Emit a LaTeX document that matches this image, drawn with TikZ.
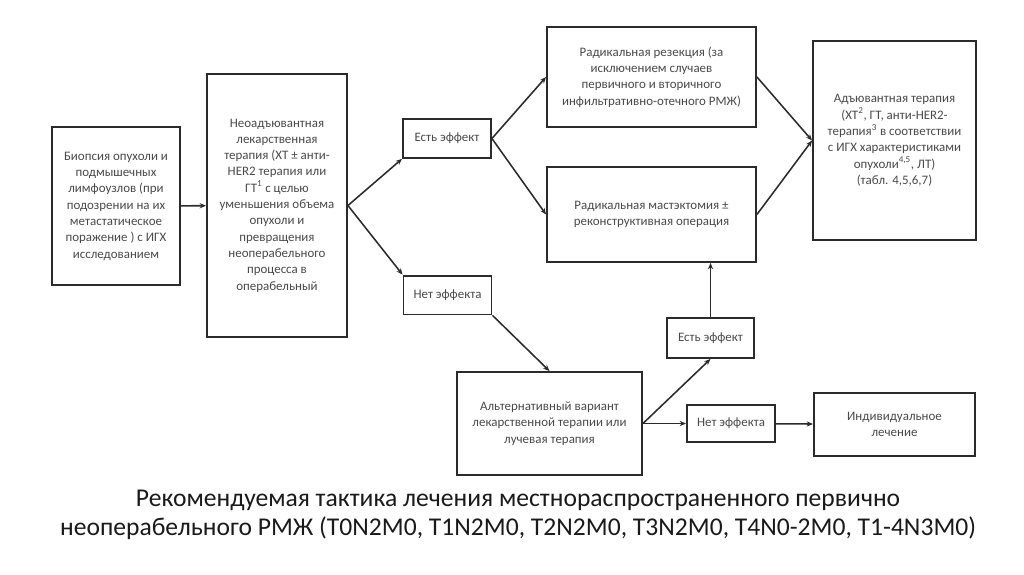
\documentclass[tikz,border=0pt]{standalone}
\usepackage{fontspec}
\setmainfont{Carlito}
\usetikzlibrary{arrows.meta, positioning, calc}
\definecolor{boxline}{HTML}{2B2B2B}
\definecolor{boxtext}{HTML}{4A4A4A}
\definecolor{captxt}{HTML}{1A1A1A}

\begin{document}
\begin{tikzpicture}[
  x=0.025cm, y=-0.025cm,
  stage/.style={draw=boxline, line width=1.3pt, fill=white, align=center,
    text=boxtext, font=\fontsize{9.2}{11.6}\selectfont, inner sep=2pt},
  result/.style={stage, minimum width=2.2cm, minimum height=0.97cm},
  >={Stealth[length=1.6mm, width=1.3mm]},
  flow/.style={draw=boxline, line width=1.1pt, ->},
]

% Page frame
\useasboundingbox (0,0) rectangle (1024,574);

% ============================================================
% Left column: biopsy and neoadjuvant therapy
% ============================================================
\node[stage, minimum width=3.2cm, minimum height=3.95cm] (biopsy) at (116,206)
  {Биопсия опухоли и\\подмышечных\\лимфоузлов (при\\подозрении на их\\метастатическое\\поражение ) с ИГХ\\исследованием};

\node[stage, minimum width=3.5cm, minimum height=6.575cm] (neoadj) at (277,205.5)
  {Неоадъювантная\\лекарственная\\терапия (ХТ ± анти-\\HER2 терапия или\\ГТ\textsuperscript{1} с целью\\уменьшения объема\\опухоли и\\превращения\\неоперабельного\\процесса в\\операбельный};

% Effect / no effect after neoadjuvant
\node[result] (eff1) at (447,138.5) {Есть эффект};
\node[result] (noeff1) at (447.5,295) {Нет эффекта};

% ============================================================
% Surgery and adjuvant therapy
% ============================================================
\node[stage, minimum width=5.225cm, minimum height=2.5cm] (resect) at (651.5,77)
  {Радикальная резекция (за\\исключением случаев\\первичного и вторичного\\инфильтративно-отечного РМЖ)};

\node[stage, minimum width=5.225cm, minimum height=2.375cm] (mast) at (651.5,214.5)
  {Радикальная мастэктомия ±\\реконструктивная операция};

\node[stage, minimum width=4.075cm, minimum height=4.975cm] (adj) at (894.5,140.5)
  {Адъювантная терапия\\(ХТ\textsuperscript{2}, ГТ, анти-HER2-\\терапия\textsuperscript{3} в соответствии\\с ИГХ характеристиками\\опухоли\textsuperscript{4,5}, ЛТ)\\(табл. 4,5,6,7)};

% ============================================================
% Alternative branch
% ============================================================
\node[stage, minimum width=4.625cm, minimum height=2.575cm] (alt) at (549.5,423.5)
  {Альтернативный вариант\\лекарственной терапии или\\лучевая терапия};

\node[result, minimum width=2.175cm, minimum height=1cm] (eff2) at (710.5,338) {Есть эффект};
\node[result, minimum height=0.925cm] (noeff2) at (731,423.5) {Нет эффекта};

\node[stage, minimum width=4.025cm, minimum height=1.575cm] (indiv) at (894.5,424.5)
  {Индивидуальное\\лечение};

% ============================================================
% Connectors
% ============================================================
\draw[flow] (biopsy) -- (neoadj);
\draw[flow] (neoadj.east) -- (eff1.south west);
\draw[flow] (neoadj.east) -- (noeff1.north west);

\draw[flow] (eff1.east) -- (resect.west);
\draw[flow] (eff1.east) -- (mast.west);
\draw[flow] (resect.east) -- (adj.west);
\draw[flow] (mast.east) -- (adj.west);

\draw[flow] (noeff1.south east) -- (alt.north);
\draw[flow] (alt.east) -- (eff2.south);
\draw[flow] (alt.east) -- (noeff2.west);
\draw[flow] (eff2.north) -- (eff2.north |- mast.south);
\draw[flow] (noeff2) -- (indiv);

% Caption
\node[font=\fontsize{18.2}{20.6}\selectfont, text=captxt, align=center] (caption) at (518,515)
  {Рекомендуемая тактика лечения местнораспространенного первично\\неоперабельного РМЖ (T0N2M0, T1N2M0, T2N2M0, T3N2M0, T4N0-2M0, T1-4N3M0)};

\end{tikzpicture}
\end{document}
